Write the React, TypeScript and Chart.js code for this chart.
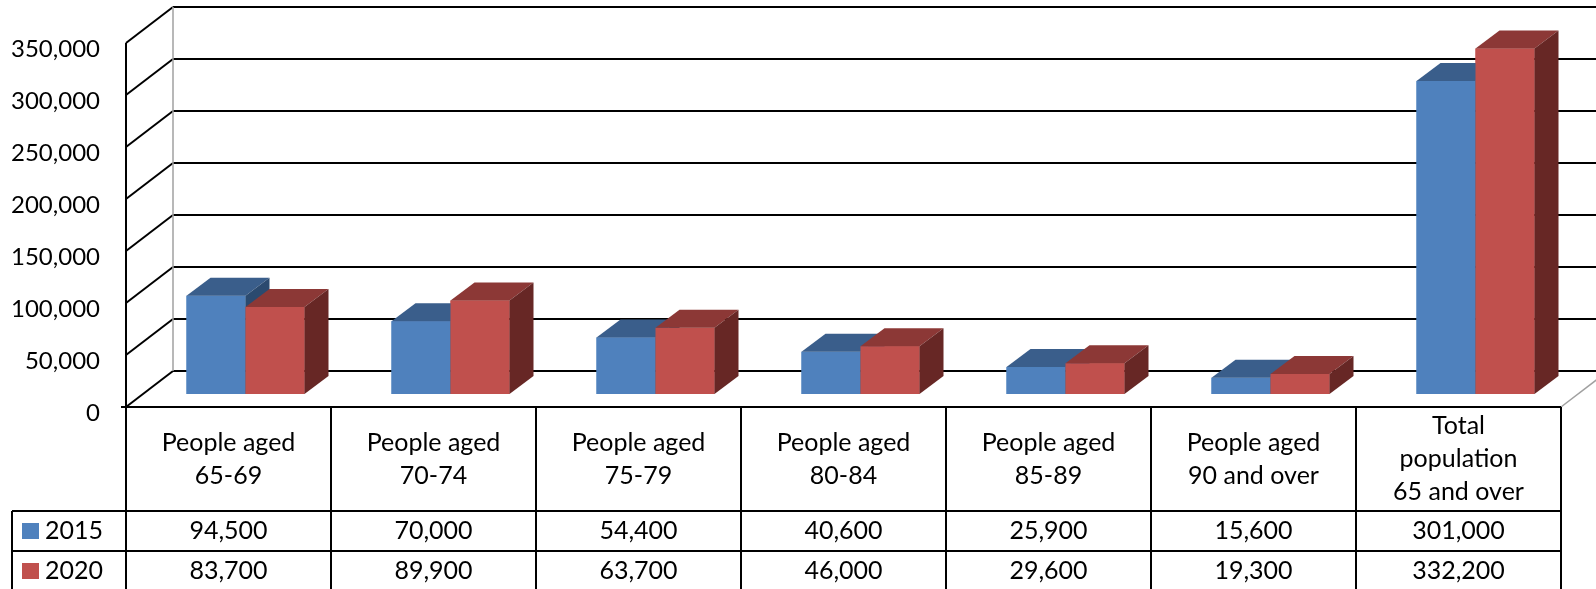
import React, { useEffect, useRef } from 'react';
import { Chart, registerables } from 'chart.js';

Chart.register(...registerables);

const categories: string[][] = [
  ['People aged', '65-69'],
  ['People aged', '70-74'],
  ['People aged', '75-79'],
  ['People aged', '80-84'],
  ['People aged', '85-89'],
  ['People aged', '90 and over'],
  ['Total', 'population', '65 and over'],
];
const seriesNames = ['2015', '2020'];
const values2015 = [94500, 70000, 54400, 40600, 25900, 15600, 301000];
const values2020 = [83700, 89900, 63700, 46000, 29600, 19300, 332200];
const yTicks = [0, 50000, 100000, 150000, 200000, 250000, 300000, 350000];

const FRONT_COLORS = ['#4F81BD', '#C0504D'];
const TOP_COLORS = ['#3A5E8B', '#8C3836'];
const SIDE_COLORS = ['#2B4A6F', '#672725'];

const W = 1596;
const H = 589;
const FONT = 'Lato, "Open Sans", sans-serif';

// 3D geometry offsets relative to the bar plane
const FRONT = { dx: -17, dy: 13 };
const BACK = { dx: 30, dy: -23 };
const DEPTH = { dx: 24, dy: -18 };
const HEADER_H = 104;
const ROW_H = 40;
const LEGEND_LEFT = 12;

const fmt = (v: number) => v.toLocaleString('en-US');

const threeD = {
  id: 'threeD',
  beforeDatasetsDraw(chart: any) {
    const ctx = chart.ctx as CanvasRenderingContext2D;
    const xs = chart.scales.x;
    const ys = chart.scales.y;
    const n = categories.length;
    const colW = xs.getPixelForValue(1) - xs.getPixelForValue(0);
    const frontLeft = xs.getPixelForValue(0) - colW / 2 + FRONT.dx;
    const frontRight = frontLeft + n * colW;
    const backLeft = frontLeft + (BACK.dx - FRONT.dx);
    ctx.save();
    ctx.fillStyle = '#ffffff';
    ctx.fillRect(0, 0, W, H);

    // back wall gridlines and left wall diagonals
    ctx.strokeStyle = '#000000';
    ctx.lineWidth = 2;
    for (const t of yTicks) {
      const yp = ys.getPixelForValue(t);
      ctx.beginPath();
      ctx.moveTo(backLeft, yp + BACK.dy);
      ctx.lineTo(W + 10, yp + BACK.dy);
      ctx.stroke();
      ctx.beginPath();
      ctx.moveTo(frontLeft, yp + FRONT.dy);
      ctx.lineTo(backLeft, yp + BACK.dy);
      ctx.stroke();
    }
    // back-left gray edge
    ctx.strokeStyle = '#a0a0a0';
    ctx.lineWidth = 1.5;
    ctx.beginPath();
    ctx.moveTo(backLeft, ys.getPixelForValue(yTicks[yTicks.length - 1]) + BACK.dy);
    ctx.lineTo(backLeft, ys.getPixelForValue(0) + BACK.dy);
    ctx.stroke();
    // right floor edge (gray)
    ctx.beginPath();
    ctx.moveTo(frontRight, ys.getPixelForValue(0) + FRONT.dy);
    ctx.lineTo(frontRight + (BACK.dx - FRONT.dx), ys.getPixelForValue(0) + BACK.dy);
    ctx.stroke();

    // front axis
    ctx.strokeStyle = '#000000';
    ctx.lineWidth = 2;
    ctx.beginPath();
    ctx.moveTo(frontLeft, ys.getPixelForValue(yTicks[yTicks.length - 1]) + FRONT.dy);
    ctx.lineTo(frontLeft, H + 5);
    ctx.stroke();
    ctx.beginPath();
    ctx.moveTo(frontLeft - 5, ys.getPixelForValue(0) + FRONT.dy);
    ctx.lineTo(frontLeft, ys.getPixelForValue(0) + FRONT.dy);
    ctx.stroke();

    // y labels
    ctx.fillStyle = '#000000';
    ctx.font = `24px ${FONT}`;
    ctx.textAlign = 'right';
    ctx.textBaseline = 'middle';
    for (const t of yTicks) {
      const yp = ys.getPixelForValue(t) + FRONT.dy;
      ctx.fillText(fmt(t), frontLeft - 26, yp + 6);
    }

    // data table
    const tableTop = ys.getPixelForValue(0) + FRONT.dy;
    const r1 = tableTop + HEADER_H;
    const r2 = r1 + ROW_H;
    const r3 = r2 + ROW_H;
    ctx.beginPath();
    ctx.moveTo(frontLeft, tableTop);
    ctx.lineTo(frontRight, tableTop);
    ctx.moveTo(LEGEND_LEFT, r1);
    ctx.lineTo(frontRight, r1);
    ctx.moveTo(LEGEND_LEFT, r2);
    ctx.lineTo(frontRight, r2);
    ctx.moveTo(LEGEND_LEFT, r3);
    ctx.lineTo(frontRight, r3);
    ctx.moveTo(LEGEND_LEFT, r1);
    ctx.lineTo(LEGEND_LEFT, r3);
    for (let i = 1; i <= n; i++) {
      const xx = frontLeft + i * colW;
      ctx.moveTo(xx, tableTop);
      ctx.lineTo(xx, r3);
    }
    ctx.stroke();

    ctx.font = `25px ${FONT}`;
    ctx.textAlign = 'center';
    const lineH = 33;
    categories.forEach((lines, i) => {
      const cx = frontLeft + (i + 0.5) * colW;
      const cy = tableTop + HEADER_H / 2;
      const start = cy - ((lines.length - 1) * lineH) / 2;
      lines.forEach((ln, k) => ctx.fillText(ln, cx, start + k * lineH));
      ctx.fillText(fmt(values2015[i]), cx, r1 + ROW_H / 2);
      ctx.fillText(fmt(values2020[i]), cx, r2 + ROW_H / 2);
    });
    // legend
    ctx.textAlign = 'left';
    [r1, r2].forEach((ry, k) => {
      ctx.fillStyle = FRONT_COLORS[k];
      ctx.fillRect(22, ry + 12, 17, 16);
      ctx.fillStyle = '#000000';
      ctx.fillText(seriesNames[k], 45, ry + ROW_H / 2);
    });
    ctx.restore();
  },
  afterDatasetsDraw(chart: any) {
    const ctx = chart.ctx as CanvasRenderingContext2D;
    const metas = [chart.getDatasetMeta(0), chart.getDatasetMeta(1)];
    ctx.save();
    for (let i = 0; i < categories.length; i++) {
      for (let d = 0; d < 2; d++) {
        const el = metas[d].data[i] as any;
        const p = el.getProps(['x', 'y', 'base', 'width'], true);
        const l = p.x - p.width / 2;
        const r = p.x + p.width / 2;
        const top = p.y;
        const bot = p.base;
        ctx.fillStyle = FRONT_COLORS[d];
        ctx.fillRect(l, top, r - l, bot - top);
        ctx.fillStyle = TOP_COLORS[d];
        ctx.beginPath();
        ctx.moveTo(l, top);
        ctx.lineTo(r, top);
        ctx.lineTo(r + DEPTH.dx, top + DEPTH.dy);
        ctx.lineTo(l + DEPTH.dx, top + DEPTH.dy);
        ctx.closePath();
        ctx.fill();
        ctx.fillStyle = SIDE_COLORS[d];
        ctx.beginPath();
        ctx.moveTo(r, top);
        ctx.lineTo(r + DEPTH.dx, top + DEPTH.dy);
        ctx.lineTo(r + DEPTH.dx, bot + DEPTH.dy);
        ctx.lineTo(r, bot);
        ctx.closePath();
        ctx.fill();
      }
    }
    ctx.restore();
  },
};

export default function App() {
  const ref = useRef<HTMLCanvasElement | null>(null);
  useEffect(() => {
    if (!ref.current) return;
    const chart = new Chart(ref.current, {
      type: 'bar',
      data: {
        labels: categories.map((c) => c.join(' ')),
        datasets: [
          { label: seriesNames[0], data: values2015, backgroundColor: FRONT_COLORS[0] },
          { label: seriesNames[1], data: values2020, backgroundColor: FRONT_COLORS[1] },
        ],
      },
      options: {
        responsive: false,
        animation: false,
        layout: { padding: { left: 143, right: 18, top: 30, bottom: H - 394 } },
        datasets: { bar: { barPercentage: 1, categoryPercentage: 118 / 205 } },
        scales: {
          x: { display: false },
          y: { display: false, min: 0, max: 350000 },
        },
        plugins: { legend: { display: false }, tooltip: { enabled: false } },
      },
      plugins: [threeD],
    });
    return () => chart.destroy();
  }, []);
  return (
    <div style={{ position: 'fixed', left: 0, top: 0, width: W, height: H, background: '#fff' }}>
      <canvas ref={ref} width={W} height={H} style={{ display: 'block' }} />
    </div>
  );
}
